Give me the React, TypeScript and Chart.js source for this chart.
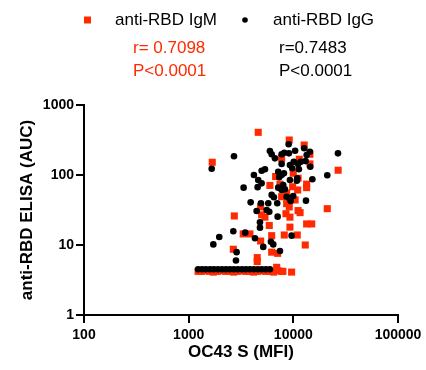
import { useEffect, useRef } from 'react';
import { Chart, registerables } from 'chart.js';

Chart.register(...registerables);

const seriesLabels = ['anti-RBD IgM', 'anti-RBD IgG'];
const rValues = ['r= 0.7098', 'r=0.7483'];
const pValues = ['P<0.0001', 'P<0.0001'];
const xTitle = 'OC43 S (MFI)';
const yTitle = 'anti-RBD ELISA (AUC)';
const xTicks = [100, 1000, 10000, 100000];
const yTicks = [1, 10, 100, 1000];

const igmX = [
  4620, 9140, 12700, 1680, 14400, 7730, 11400, 14400, 26800, 9980, 6770, 11100, 5970, 7450, 9850, 13400,
  13400, 11000, 8630, 7730, 10400, 8630, 9140, 4870, 21100, 11100, 11600, 8500, 2730, 4980, 5360, 9280,
  13400, 15000, 5890, 9280, 3320, 3850, 6210, 8190, 10900, 4870, 13000, 2670, 6210, 7080, 4520, 4520,
  6930, 9630, 7730,
  1230, 1330, 1450, 1580, 1720, 1880, 2050, 2250, 2460, 2690, 2940, 3210, 3500, 3820, 4170, 4560, 4980,
  5440, 5950, 6500, 7100, 7950,
];
const igmY = [
  407, 316, 268, 152, 198, 173, 168, 144, 117, 106, 95, 90, 71, 74, 68, 74,
  66, 61, 55, 49, 44, 39, 35, 35, 33, 31, 29, 28, 26, 27, 25, 25,
  20, 20, 19, 18, 14.4, 14.4, 13.6, 13.9, 13.9, 11.4, 10, 8.7, 7.9, 7.6, 6.6, 5.8,
  4.8, 4.1, 4.2,
  4.2, 4.2, 4.3, 4.2, 4.1, 4.2, 4.3, 4.2, 4.2, 4.1, 4.2, 4.3, 4.2, 4.2, 4.1, 4.2, 4.3,
  4.2, 4.2, 4.1, 4.3, 4.2,
];

const iggX = [
  9020, 2710, 26700, 1660, 5970, 6210, 6670, 7730, 8190, 9080, 10400, 12700, 14400, 13400, 7730, 9280,
  10100, 11100, 11800, 13100, 11300, 9770, 14500, 4980, 5360, 4200, 7170, 7730, 8130, 7330, 4620, 4980,
  4560, 9280, 10900, 10800, 15200, 21100, 3350, 7170, 7730, 8310, 8010, 6210, 6520, 8630, 9140, 9980,
  9420, 13200, 3910, 4900, 5760, 7020, 4460, 5560, 5890, 7080, 4800, 4800, 2670, 3470, 1960, 4300,
  9630, 1720, 5160, 6110, 6430, 2870, 7450, 2830,
  1230, 1340, 1460, 1600, 1740, 1900, 2080, 2270, 2480, 2700, 2950, 3230, 3520, 3850, 4200, 4590,
  5000, 5470, 5970,
];
const iggY = [
  275, 185, 204, 123, 220, 198, 173, 198, 208, 204, 222, 241, 215, 193, 144, 139,
  155, 144, 155, 158, 121, 125, 131, 115, 121, 100, 111, 100, 106, 93, 85, 76,
  67, 85, 90, 83, 87, 99, 66, 66, 61, 62.5, 72, 52, 48, 49, 46.4, 50,
  42.5, 43, 40.7, 39.4, 39.4, 39.4, 30.6, 31.6, 29.9, 25.4, 21.1, 17.7, 15.7, 15, 13, 12.5,
  13.6, 10.2, 9.4, 11.1, 10.2, 7.9, 8.2, 6.0,
  4.5, 4.5, 4.5, 4.5, 4.5, 4.5, 4.5, 4.5, 4.5, 4.5, 4.5, 4.5, 4.5, 4.5, 4.5, 4.5,
  4.5, 4.5, 4.5,
];

const RED = '#ff2a00';
const FONT = '"Liberation Sans", Arial, Helvetica, sans-serif';

const headerPlugin = {
  id: 'header',
  afterDraw(chart: any) {
    const ctx = chart.ctx as CanvasRenderingContext2D;
    const colors = [RED, '#000000'];
    const markerX = [87.5, 245];
    const textX = [115, 273];
    const statX = [133, 279];
    ctx.save();
    ctx.textBaseline = 'middle';
    ctx.textAlign = 'left';
    // legend markers
    ctx.fillStyle = RED;
    ctx.fillRect(markerX[0] - 3.5, 16.5, 7, 7);
    ctx.fillStyle = '#000';
    ctx.beginPath();
    ctx.arc(markerX[1], 20, 2.8, 0, Math.PI * 2);
    ctx.fill();
    ctx.font = `17px ${FONT}`;
    seriesLabels.forEach((lab, i) => {
      ctx.fillStyle = '#000';
      ctx.fillText(lab, textX[i], 20);
      ctx.fillStyle = colors[i];
      ctx.fillText(rValues[i], statX[i], 48);
      ctx.fillText(pValues[i], statX[i], 71.5);
    });
    ctx.restore();
  },
};

export default function App() {
  const ref = useRef<HTMLCanvasElement | null>(null);
  useEffect(() => {
    document.body.style.margin = '0';
    const canvas = ref.current;
    if (!canvas) return;
    const chart = new Chart(canvas, {
      type: 'scatter',
      data: {
        datasets: [
          {
            label: seriesLabels[0],
            data: igmX.map((x, i) => ({ x, y: igmY[i] })),
            pointStyle: 'rect',
            pointRadius: 5,
            pointHoverRadius: 5,
            pointBackgroundColor: RED,
            pointBorderWidth: 0,
            borderColor: RED,
            backgroundColor: RED,
            order: 1,
          },
          {
            label: seriesLabels[1],
            data: iggX.map((x, i) => ({ x, y: iggY[i] })),
            pointStyle: 'circle',
            pointRadius: 3.3,
            pointHoverRadius: 3.3,
            pointBackgroundColor: '#000',
            pointBorderWidth: 0,
            borderColor: '#000',
            backgroundColor: '#000',
            order: 0,
          },
        ],
      },
      options: {
        animation: false,
        responsive: false,
        devicePixelRatio: 1,
        layout: { padding: { top: 105, right: 28, left: 0, bottom: 0 } },
        plugins: { legend: { display: false }, tooltip: { enabled: false } },
        scales: {
          x: {
            type: 'logarithmic',
            min: 100,
            max: 100000,
            afterBuildTicks: (scale: any) => {
              scale.ticks = xTicks.map((v) => ({ value: v }));
            },
            afterFit: (scale: any) => {
              scale.height = 55;
            },
            ticks: {
              callback: (v: any) => String(v),
              color: '#000',
              font: { family: FONT, size: 14, weight: 'bold' },
              padding: 4,
              maxRotation: 0,
              autoSkip: false,
            },
            grid: { drawOnChartArea: false, color: '#000', lineWidth: 2, tickLength: 8 },
            border: { color: '#000', width: 2 },
            title: {
              display: true,
              text: xTitle,
              color: '#000',
              font: { family: FONT, size: 17, weight: 'bold' },
              padding: { top: 0, bottom: 7 },
            },
          },
          y: {
            type: 'logarithmic',
            min: 1,
            max: 1000,
            afterBuildTicks: (scale: any) => {
              scale.ticks = yTicks.map((v) => ({ value: v }));
            },
            afterFit: (scale: any) => {
              scale.width = 84;
            },
            ticks: {
              callback: (v: any) => String(v),
              color: '#000',
              font: { family: FONT, size: 14, weight: 'bold' },
              padding: 2,
              autoSkip: false,
            },
            grid: { drawOnChartArea: false, color: '#000', lineWidth: 2, tickLength: 8 },
            border: { color: '#000', width: 2 },
            title: {
              display: true,
              text: yTitle,
              color: '#000',
              font: { family: FONT, size: 17, weight: 'bold' },
              padding: { top: 17, bottom: 0 },
            },
          },
        },
      },
      plugins: [headerPlugin],
    } as any);
    return () => chart.destroy();
  }, []);
  return <canvas ref={ref} width={426} height={370} style={{ display: 'block' }} />;
}
